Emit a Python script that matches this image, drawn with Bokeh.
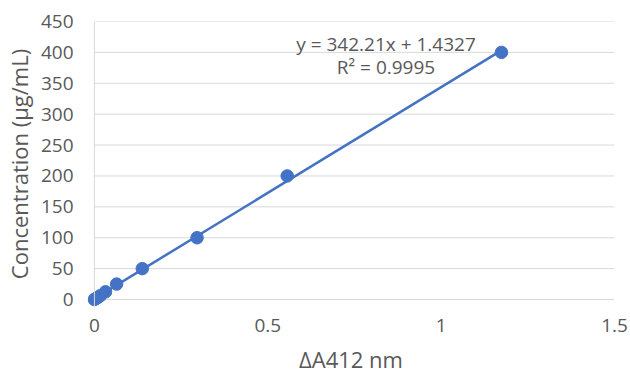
from bokeh.plotting import figure
from bokeh.models import Range1d, FixedTicker, Span, ColumnDataSource
from bokeh.embed import file_html
from bokeh.resources import INLINE
from bokeh.core.properties import value

# Data
absorbance = [0.0, 0.004, 0.009, 0.017, 0.032, 0.064, 0.138, 0.296, 0.556, 1.174]
concentration = [0, 1.5625, 3.125, 6.25, 12.5, 25, 50, 100, 200, 400]
slope = 342.21
intercept = 1.4327
x_ticks = [0, 0.5, 1, 1.5]
y_ticks = [0, 50, 100, 150, 200, 250, 300, 350, 400, 450]
eq_text = "y = 342.21x + 1.4327"
r2_text = "R² = 0.9995"
x_title = "ΔA412 nm"
y_title = "Concentration (µg/mL)"

FONT = "Open Sans"
GREY = "#595959"
BLUE = "#4472C4"
GRID = "#D9D9D9"

p = figure(width=630, height=376, output_backend="svg", toolbar_location=None,
           x_range=Range1d(-0.02, 1.5), y_range=Range1d(-11.3, 450),
           min_border_left=87, min_border_right=16, min_border_top=21, min_border_bottom=70)
p.outline_line_color = None
p.xgrid.visible = False
p.ygrid.visible = False

# gridlines
p.segment(x0=[0] * len(y_ticks), x1=[x_ticks[-1]] * len(y_ticks), y0=y_ticks, y1=y_ticks,
          line_color=GRID, line_width=1)
# vertical axis line at zero
p.add_layout(Span(location=0, dimension="height", line_color=GRID, line_width=1))

for ax in (p.xaxis[0], p.yaxis[0]):
    ax.axis_line_color = None
    ax.major_tick_line_color = None
    ax.minor_tick_line_color = None
    ax.major_label_text_font = FONT
    ax.major_label_text_font_size = "19px"
    ax.major_label_text_color = GREY
    ax.major_label_text_line_height = 1.0
    ax.axis_label_text_font = FONT
    ax.axis_label_text_font_size = "22px"
    ax.axis_label_text_color = GREY
    ax.axis_label_text_font_style = "normal"
    ax.axis_label_text_line_height = 1.0

p.xaxis.ticker = FixedTicker(ticks=x_ticks)
p.yaxis.ticker = FixedTicker(ticks=y_ticks)
p.xaxis.major_label_overrides = {0: "0", 0.5: "0.5", 1: "1", 1.5: "1.5"}
p.xaxis.major_label_standoff = 6
p.yaxis.major_label_standoff = 8
p.xaxis.axis_label = x_title
p.yaxis.axis_label = y_title
p.xaxis.axis_label_standoff = 9
p.yaxis.axis_label_standoff = 4

# trendline
x_line = [min(absorbance), max(absorbance)]
y_line = [slope * x + intercept for x in x_line]
p.line(x_line, y_line, line_color=BLUE, line_width=2.5)

src = ColumnDataSource(dict(x=absorbance, y=concentration))
p.scatter("x", "y", source=src, size=12.5, fill_color=BLUE, line_color=BLUE)

p.text(x=[0.841, 0.841], y=[414, 377], text=[eq_text, r2_text], text_align="center",
       text_baseline="middle", text_font=value(FONT), text_font_size="19px",
       text_color=GREY)

open("out.html", "w").write(file_html(p, INLINE))
